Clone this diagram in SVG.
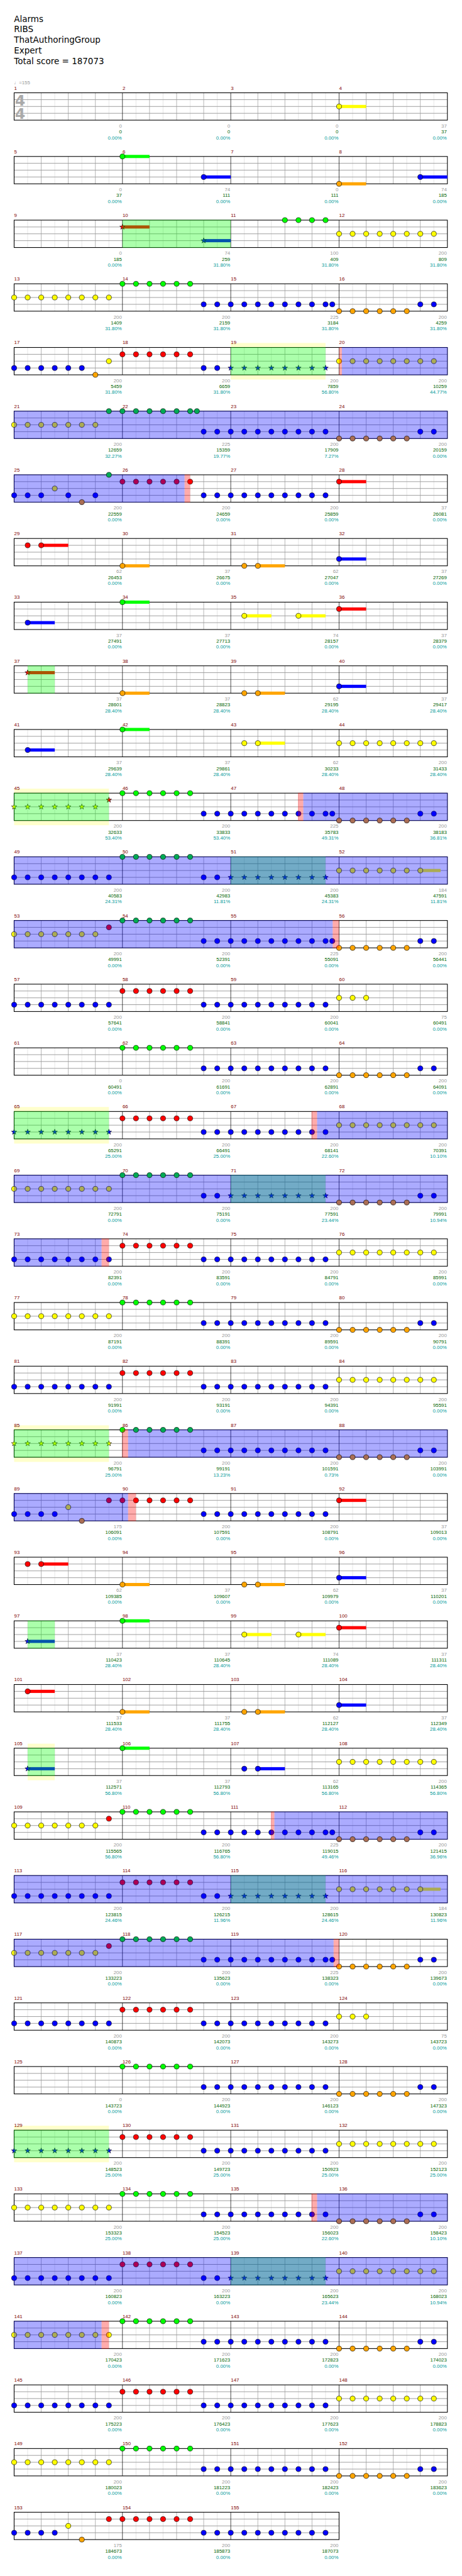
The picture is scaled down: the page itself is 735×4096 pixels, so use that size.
<svg xmlns="http://www.w3.org/2000/svg" width="735" height="4096" viewBox="0 0 735 4096">
<style>
.m{font:11px "Liberation Sans",Arial,sans-serif;fill:#800000}
.a,.s,.p{font:11px "Liberation Sans",Arial,sans-serif;text-anchor:end}
.a{fill:#999}.s{fill:#006400}.p{fill:#009999}
.h{font:18.8px "DejaVu Sans",sans-serif;fill:#000}
.ts{font:bold 33px "DejaVu Sans",sans-serif;fill:#aaa}
.t{font:11px "Liberation Sans","DejaVu Sans",sans-serif;fill:#999}
.G{fill:#0f0}.R{fill:#f00}.Y{fill:#ff0}.B{fill:#00f}.O{fill:#ffa500}.Gb{fill:#00aa55}.Ob{fill:#aa6e55}
.go{fill:#0f0;fill-opacity:.33}.bo{fill:#00f;fill-opacity:.33}.po{fill:#f00;fill-opacity:.33}.yb{fill:#ffc}
</style>
<defs>
<g id="c1" stroke="#000" stroke-width=".9"><circle r="5.6"/></g>
<g id="c2" stroke="#000" stroke-width=".9"><circle r="5.6"/><circle cx="30" r="5.6"/></g>
<g id="c3" stroke="#000" stroke-width=".9"><circle r="5.6"/><circle cx="30" r="5.6"/><circle cx="60" r="5.6"/></g>
<g id="c4" stroke="#000" stroke-width=".9"><circle r="5.6"/><circle cx="30" r="5.6"/><circle cx="60" r="5.6"/><circle cx="90" r="5.6"/></g>
<g id="c5" stroke="#000" stroke-width=".9"><circle r="5.6"/><circle cx="30" r="5.6"/><circle cx="60" r="5.6"/><circle cx="90" r="5.6"/><circle cx="120" r="5.6"/></g>
<g id="c6" stroke="#000" stroke-width=".9"><circle r="5.6"/><circle cx="30" r="5.6"/><circle cx="60" r="5.6"/><circle cx="90" r="5.6"/><circle cx="120" r="5.6"/><circle cx="150" r="5.6"/></g>
<g id="c7" stroke="#000" stroke-width=".9"><circle r="5.6"/><circle cx="30" r="5.6"/><circle cx="60" r="5.6"/><circle cx="90" r="5.6"/><circle cx="120" r="5.6"/><circle cx="150" r="5.6"/><circle cx="180" r="5.6"/></g>
<g id="c8" stroke="#000" stroke-width=".9"><circle r="5.6"/><circle cx="30" r="5.6"/><circle cx="60" r="5.6"/><circle cx="90" r="5.6"/><circle cx="120" r="5.6"/><circle cx="150" r="5.6"/><circle cx="180" r="5.6"/><circle cx="210" r="5.6"/></g>
<g id="c10" stroke="#000" stroke-width=".9"><circle r="5.6"/><circle cx="30" r="5.6"/><circle cx="60" r="5.6"/><circle cx="90" r="5.6"/><circle cx="120" r="5.6"/><circle cx="150" r="5.6"/><circle cx="180" r="5.6"/><circle cx="210" r="5.6"/><circle cx="240" r="5.6"/><circle cx="270" r="5.6"/></g>
<path id="sp" d="M0-6.3L1.5-2.05 6-1.95 2.4.78 3.7 5.1 0 2.5-3.7 5.1-2.4.78-6-1.95-1.5-2.05Z" stroke="#000" stroke-width=".8"/>
<g id="s7"><use href="#sp"/><use href="#sp" x="30"/><use href="#sp" x="60"/><use href="#sp" x="90"/><use href="#sp" x="120"/><use href="#sp" x="150"/><use href="#sp" x="180"/></g>
<g id="s8"><use href="#s7"/><use href="#sp" x="210"/></g>
<rect id="t2" y="-3.5" width="60" height="7"/>
<rect id="t15" y="-3.5" width="45" height="7"/>
<g id="S4">
<rect x="31.3" width="960" height="60.6" fill="#fff"/>
<path d="M61.3 0V60.6M121.3 0V60.6M181.3 0V60.6M241.3 0V60.6M301.3 0V60.6M361.3 0V60.6M421.3 0V60.6M481.3 0V60.6M541.3 0V60.6M601.3 0V60.6M661.3 0V60.6M721.3 0V60.6M781.3 0V60.6M841.3 0V60.6M901.3 0V60.6M961.3 0V60.6" stroke="#dcdcdc"/>
<path d="M91.3 0V60.6M151.3 0V60.6M211.3 0V60.6M331.3 0V60.6M391.3 0V60.6M451.3 0V60.6M571.3 0V60.6M631.3 0V60.6M691.3 0V60.6M811.3 0V60.6M871.3 0V60.6M931.3 0V60.6" stroke="#999"/>
<path d="M31.3 15.15H991.3M31.3 30.3H991.3M31.3 45.45H991.3" stroke="#999" stroke-width="1.3"/>
<path d="M271.3 0V60.6M511.3 0V60.6M751.3 0V60.6" stroke="#000"/>
<rect x="31.3" width="960" height="60.6" fill="none" stroke="#000" stroke-width="1.5"/>
</g>
<g id="S3">
<rect x="31.3" width="720" height="60.6" fill="#fff"/>
<path d="M61.3 0V60.6M121.3 0V60.6M181.3 0V60.6M241.3 0V60.6M301.3 0V60.6M361.3 0V60.6M421.3 0V60.6M481.3 0V60.6M541.3 0V60.6M601.3 0V60.6M661.3 0V60.6M721.3 0V60.6" stroke="#dcdcdc"/>
<path d="M91.3 0V60.6M151.3 0V60.6M211.3 0V60.6M331.3 0V60.6M391.3 0V60.6M451.3 0V60.6M571.3 0V60.6M631.3 0V60.6M691.3 0V60.6" stroke="#999"/>
<path d="M31.3 15.15H751.3M31.3 30.3H751.3M31.3 45.45H751.3" stroke="#999" stroke-width="1.3"/>
<path d="M271.3 0V60.6M511.3 0V60.6" stroke="#000"/>
<rect x="31.3" width="720" height="60.6" fill="none" stroke="#000" stroke-width="1.5"/>
</g>
</defs>
<rect width="735" height="4096" fill="#fff"/>
<g transform="scale(0.718)">
<g id="header">
<text class="h" x="31" y="48.3">Alarms</text>
<text class="h" x="31" y="71.7">RIBS</text>
<text class="h" x="31" y="95">ThatAuthoringGroup</text>
<text class="h" x="31" y="118.3">Expert</text>
<text class="h" x="31" y="141.7">Total score = 187073</text>
</g>

<g id="row1" transform="translate(0,205.5)">
<use href="#S4"/>
<text class="ts" x="33" y="28">4</text><text class="ts" x="33" y="58">4</text>
<use href="#t2" x="751.3" y="30.3" class="Y"/><use href="#c1" x="751.3" y="30.3" class="Y"/>
<text class="t" x="31" y="-19.5">♩=155</text>
<text class="m" y="-7"><tspan x="31.5">1</tspan><tspan x="271.5">2</tspan><tspan x="511.5">3</tspan><tspan x="751.5">4</tspan></text>
<text class="a" y="77"><tspan x="270">0</tspan><tspan x="510">0</tspan><tspan x="750">0</tspan><tspan x="990">37</tspan></text>
<text class="s" y="90"><tspan x="270">0</tspan><tspan x="510">0</tspan><tspan x="750">0</tspan><tspan x="990">37</tspan></text>
<text class="p" y="103"><tspan x="270">0.00%</tspan><tspan x="510">0.00%</tspan><tspan x="750">0.00%</tspan><tspan x="990">0.00%</tspan></text>
</g>

<g id="row5" transform="translate(0,346.5)">
<use href="#S4"/>
<use href="#t2" x="271.3" class="G"/><use href="#c1" x="271.3" class="G"/>
<use href="#t2" x="451.3" y="45.45" class="B"/><use href="#c1" x="451.3" y="45.45" class="B"/>
<use href="#t2" x="751.3" y="60.6" class="O"/><use href="#c1" x="751.3" y="60.6" class="O"/>
<use href="#t2" x="931.3" y="45.45" class="B"/><use href="#c1" x="931.3" y="45.45" class="B"/>
<text class="m" y="-7"><tspan x="31.5">5</tspan><tspan x="271.5">6</tspan><tspan x="511.5">7</tspan><tspan x="751.5">8</tspan></text>
<text class="a" y="77"><tspan x="270">0</tspan><tspan x="510">74</tspan><tspan x="750">0</tspan><tspan x="990">74</tspan></text>
<text class="s" y="90"><tspan x="270">37</tspan><tspan x="510">111</tspan><tspan x="750">111</tspan><tspan x="990">185</tspan></text>
<text class="p" y="103"><tspan x="270">0.00%</tspan><tspan x="510">0.00%</tspan><tspan x="750">0.00%</tspan><tspan x="990">0.00%</tspan></text>
</g>

<g id="row9" transform="translate(0,487.5)">
<use href="#S4"/>
<use href="#t2" x="271.3" y="15.15" class="R"/><use href="#sp" x="271.3" y="15.15" class="R"/>
<use href="#t2" x="451.3" y="45.45" class="B"/><use href="#sp" x="451.3" y="45.45" class="B"/>
<use href="#c4" x="631.3" class="G"/><use href="#c8" x="751.3" y="30.3" class="Y"/>
<rect class="go" x="271.3" y="-.75" width="240" height="62.1"/>
<text class="m" y="-7"><tspan x="31.5">9</tspan><tspan x="271.5">10</tspan><tspan x="511.5">11</tspan><tspan x="751.5">12</tspan></text>
<text class="a" y="77"><tspan x="270">0</tspan><tspan x="510">74</tspan><tspan x="750">100</tspan><tspan x="990">200</tspan></text>
<text class="s" y="90"><tspan x="270">185</tspan><tspan x="510">259</tspan><tspan x="750">409</tspan><tspan x="990">809</tspan></text>
<text class="p" y="103"><tspan x="270">0.00%</tspan><tspan x="510">31.80%</tspan><tspan x="750">31.80%</tspan><tspan x="990">31.80%</tspan></text>
</g>

<g id="row13" transform="translate(0,628.5)">
<use href="#S4"/>
<use href="#c8" x="31.3" y="30.3" class="Y"/><use href="#c6" x="271.3" class="G"/><use href="#c10" x="451.3" y="45.45" class="B"/><use href="#c1" x="736.3" y="45.45" class="B"/><use href="#c6" x="751.3" y="60.6" class="O"/><use href="#c2" x="931.3" y="45.45" class="B"/>
<text class="m" y="-7"><tspan x="31.5">13</tspan><tspan x="271.5">14</tspan><tspan x="511.5">15</tspan><tspan x="751.5">16</tspan></text>
<text class="a" y="77"><tspan x="270">200</tspan><tspan x="510">200</tspan><tspan x="750">225</tspan><tspan x="990">200</tspan></text>
<text class="s" y="90"><tspan x="270">1409</tspan><tspan x="510">2159</tspan><tspan x="750">3184</tspan><tspan x="990">4259</tspan></text>
<text class="p" y="103"><tspan x="270">31.80%</tspan><tspan x="510">31.80%</tspan><tspan x="750">31.80%</tspan><tspan x="990">31.80%</tspan></text>
</g>

<g id="row17" transform="translate(0,769.5)">
<rect class="yb" x="511.3" y="-10" width="210" height="81"/>
<use href="#S4"/>
<use href="#c6" x="31.3" y="45.45" class="B"/><use href="#c1" x="211.3" y="60.6" class="O"/><use href="#c1" x="241.3" y="30.3" class="Y"/><use href="#c6" x="271.3" y="15.15" class="R"/><use href="#c2" x="451.3" y="45.45" class="B"/><use href="#s8" x="511.3" y="45.45" class="B"/><use href="#c8" x="751.3" y="30.3" class="Y"/>
<rect class="go" x="511.3" y="-.75" width="210" height="62.1"/><rect class="po" x="751.3" y="-.75" width="6.2" height="62.1"/><rect class="bo" x="757.5" y="-.75" width="234.5" height="62.1"/>
<text class="m" y="-7"><tspan x="31.5">17</tspan><tspan x="271.5">18</tspan><tspan x="511.5">19</tspan><tspan x="751.5">20</tspan></text>
<text class="a" y="77"><tspan x="270">200</tspan><tspan x="510">200</tspan><tspan x="750">200</tspan><tspan x="990">200</tspan></text>
<text class="s" y="90"><tspan x="270">5459</tspan><tspan x="510">6659</tspan><tspan x="750">7859</tspan><tspan x="990">10259</tspan></text>
<text class="p" y="103"><tspan x="270">31.80%</tspan><tspan x="510">31.80%</tspan><tspan x="750">56.80%</tspan><tspan x="990">44.77%</tspan></text>
</g>

<g id="row21" transform="translate(0,910.5)">
<use href="#S4"/>
<use href="#c7" x="31.3" y="30.3" class="Y"/><use href="#c10" x="451.3" y="45.45" class="B"/><use href="#c2" x="931.3" y="45.45" class="B"/>
<rect class="bo" x="30.5" y="-.75" width="961.5" height="62.1"/>
<use href="#c7" x="241.3" class="Gb"/><use href="#c1" x="436.3" class="Gb"/><use href="#c6" x="751.3" y="60.6" class="Ob"/>
<text class="m" y="-7"><tspan x="31.5">21</tspan><tspan x="271.5">22</tspan><tspan x="511.5">23</tspan><tspan x="751.5">24</tspan></text>
<text class="a" y="77"><tspan x="270">200</tspan><tspan x="510">225</tspan><tspan x="750">200</tspan><tspan x="990">200</tspan></text>
<text class="s" y="90"><tspan x="270">12659</tspan><tspan x="510">15359</tspan><tspan x="750">17909</tspan><tspan x="990">20159</tspan></text>
<text class="p" y="103"><tspan x="270">32.27%</tspan><tspan x="510">19.77%</tspan><tspan x="750">7.27%</tspan><tspan x="990">0.00%</tspan></text>
</g>

<g id="row25" transform="translate(0,1051.5)">
<use href="#S4"/>
<use href="#c3" x="31.3" y="45.45" class="B"/><use href="#c1" x="121.3" y="30.3" class="Y"/><use href="#c1" x="151.3" y="45.45" class="B"/><use href="#c1" x="211.3" y="45.45" class="B"/><use href="#c6" x="271.3" y="15.15" class="R"/><use href="#c10" x="451.3" y="45.45" class="B"/><use href="#t2" x="751.3" y="15.15" class="R"/><use href="#c1" x="751.3" y="15.15" class="R"/>
<rect class="bo" x="30.5" y="-.75" width="378.5" height="62.1"/><rect class="po" x="409" y="-.75" width="12.3" height="62.1"/>
<use href="#c1" x="181.3" y="60.6" class="Ob"/><use href="#c1" x="241.3" class="Gb"/>
<text class="m" y="-7"><tspan x="31.5">25</tspan><tspan x="271.5">26</tspan><tspan x="511.5">27</tspan><tspan x="751.5">28</tspan></text>
<text class="a" y="77"><tspan x="270">200</tspan><tspan x="510">200</tspan><tspan x="750">200</tspan><tspan x="990">37</tspan></text>
<text class="s" y="90"><tspan x="270">22559</tspan><tspan x="510">24659</tspan><tspan x="750">25859</tspan><tspan x="990">26081</tspan></text>
<text class="p" y="103"><tspan x="270">0.00%</tspan><tspan x="510">0.00%</tspan><tspan x="750">0.00%</tspan><tspan x="990">0.00%</tspan></text>
</g>

<g id="row29" transform="translate(0,1192.5)">
<use href="#S4"/>
<use href="#c1" x="61.3" y="15.15" class="R"/><use href="#t2" x="91.3" y="15.15" class="R"/><use href="#c1" x="91.3" y="15.15" class="R"/><use href="#t2" x="271.3" y="60.6" class="O"/><use href="#c1" x="271.3" y="60.6" class="O"/><use href="#c1" x="541.3" y="60.6" class="O"/><use href="#t2" x="571.3" y="60.6" class="O"/><use href="#c1" x="571.3" y="60.6" class="O"/><use href="#t2" x="751.3" y="45.45" class="B"/><use href="#c1" x="751.3" y="45.45" class="B"/>
<text class="m" y="-7"><tspan x="31.5">29</tspan><tspan x="271.5">30</tspan><tspan x="511.5">31</tspan><tspan x="751.5">32</tspan></text>
<text class="a" y="77"><tspan x="270">62</tspan><tspan x="510">37</tspan><tspan x="750">62</tspan><tspan x="990">37</tspan></text>
<text class="s" y="90"><tspan x="270">26453</tspan><tspan x="510">26675</tspan><tspan x="750">27047</tspan><tspan x="990">27269</tspan></text>
<text class="p" y="103"><tspan x="270">0.00%</tspan><tspan x="510">0.00%</tspan><tspan x="750">0.00%</tspan><tspan x="990">0.00%</tspan></text>
</g>

<g id="row33" transform="translate(0,1333.5)">
<use href="#S4"/>
<use href="#t2" x="61.3" y="45.45" class="B"/><use href="#c1" x="61.3" y="45.45" class="B"/><use href="#t2" x="271.3" class="G"/><use href="#c1" x="271.3" class="G"/><use href="#t2" x="541.3" y="30.3" class="Y"/><use href="#c1" x="541.3" y="30.3" class="Y"/><use href="#t2" x="661.3" y="30.3" class="Y"/><use href="#c1" x="661.3" y="30.3" class="Y"/><use href="#t2" x="751.3" y="15.15" class="R"/><use href="#c1" x="751.3" y="15.15" class="R"/>
<text class="m" y="-7"><tspan x="31.5">33</tspan><tspan x="271.5">34</tspan><tspan x="511.5">35</tspan><tspan x="751.5">36</tspan></text>
<text class="a" y="77"><tspan x="270">37</tspan><tspan x="510">37</tspan><tspan x="750">74</tspan><tspan x="990">37</tspan></text>
<text class="s" y="90"><tspan x="270">27491</tspan><tspan x="510">27713</tspan><tspan x="750">28157</tspan><tspan x="990">28379</tspan></text>
<text class="p" y="103"><tspan x="270">0.00%</tspan><tspan x="510">0.00%</tspan><tspan x="750">0.00%</tspan><tspan x="990">0.00%</tspan></text>
</g>

<g id="row37" transform="translate(0,1474.5)">
<use href="#S4"/>
<use href="#t2" x="61.3" y="15.15" class="R"/><use href="#sp" x="61.3" y="15.15" class="R"/><use href="#t2" x="271.3" y="60.6" class="O"/><use href="#c1" x="271.3" y="60.6" class="O"/><use href="#c1" x="541.3" y="60.6" class="O"/><use href="#t2" x="571.3" y="60.6" class="O"/><use href="#c1" x="571.3" y="60.6" class="O"/><use href="#t2" x="751.3" y="45.45" class="B"/><use href="#c1" x="751.3" y="45.45" class="B"/>
<rect class="go" x="61.3" y="-.75" width="60" height="62.1"/>
<text class="m" y="-7"><tspan x="31.5">37</tspan><tspan x="271.5">38</tspan><tspan x="511.5">39</tspan><tspan x="751.5">40</tspan></text>
<text class="a" y="77"><tspan x="270">37</tspan><tspan x="510">37</tspan><tspan x="750">62</tspan><tspan x="990">37</tspan></text>
<text class="s" y="90"><tspan x="270">28601</tspan><tspan x="510">28823</tspan><tspan x="750">29195</tspan><tspan x="990">29417</tspan></text>
<text class="p" y="103"><tspan x="270">28.40%</tspan><tspan x="510">28.40%</tspan><tspan x="750">28.40%</tspan><tspan x="990">28.40%</tspan></text>
</g>

<g id="row41" transform="translate(0,1615.5)">
<use href="#S4"/>
<use href="#t2" x="61.3" y="45.45" class="B"/><use href="#c1" x="61.3" y="45.45" class="B"/><use href="#t2" x="271.3" class="G"/><use href="#c1" x="271.3" class="G"/><use href="#c1" x="541.3" y="30.3" class="Y"/><use href="#t2" x="571.3" y="30.3" class="Y"/><use href="#c1" x="571.3" y="30.3" class="Y"/><use href="#c8" x="751.3" y="30.3" class="Y"/>
<text class="m" y="-7"><tspan x="31.5">41</tspan><tspan x="271.5">42</tspan><tspan x="511.5">43</tspan><tspan x="751.5">44</tspan></text>
<text class="a" y="77"><tspan x="270">37</tspan><tspan x="510">37</tspan><tspan x="750">62</tspan><tspan x="990">200</tspan></text>
<text class="s" y="90"><tspan x="270">29639</tspan><tspan x="510">29861</tspan><tspan x="750">30233</tspan><tspan x="990">31433</tspan></text>
<text class="p" y="103"><tspan x="270">28.40%</tspan><tspan x="510">28.40%</tspan><tspan x="750">28.40%</tspan><tspan x="990">28.40%</tspan></text>
</g>

<g id="row45" transform="translate(0,1756.5)">
<rect class="yb" x="31.3" y="-10" width="210" height="81"/>
<use href="#S4"/>
<use href="#s7" x="31.3" y="30.3" class="Y"/><use href="#sp" x="241.3" y="15.15" class="R"/><use href="#c6" x="271.3" class="G"/><use href="#c10" x="451.3" y="45.45" class="B"/><use href="#c1" x="736.3" y="45.45" class="B"/><use href="#c2" x="931.3" y="45.45" class="B"/>
<rect class="go" x="30.5" y="-.75" width="210.8" height="62.1"/><rect class="po" x="660.2" y="-.75" width="11.8" height="62.1"/><rect class="bo" x="672" y="-.75" width="320" height="62.1"/>
<use href="#c6" x="751.3" y="60.6" class="Ob"/>
<text class="m" y="-7"><tspan x="31.5">45</tspan><tspan x="271.5">46</tspan><tspan x="511.5">47</tspan><tspan x="751.5">48</tspan></text>
<text class="a" y="77"><tspan x="270">200</tspan><tspan x="510">200</tspan><tspan x="750">225</tspan><tspan x="990">200</tspan></text>
<text class="s" y="90"><tspan x="270">32633</tspan><tspan x="510">33833</tspan><tspan x="750">35783</tspan><tspan x="990">38183</tspan></text>
<text class="p" y="103"><tspan x="270">53.40%</tspan><tspan x="510">53.40%</tspan><tspan x="750">49.31%</tspan><tspan x="990">36.81%</tspan></text>
</g>

<g id="row49" transform="translate(0,1897.5)">
<use href="#S4"/>
<use href="#c8" x="31.3" y="45.45" class="B"/><use href="#c2" x="451.3" y="45.45" class="B"/><use href="#s8" x="511.3" y="45.45" class="B"/><use href="#t15" x="931.3" y="30.3" class="Y"/><use href="#c7" x="751.3" y="30.3" class="Y"/>
<rect class="go" x="511.3" y="-.75" width="210" height="62.1"/><rect class="bo" x="30.5" y="-.75" width="961.5" height="62.1"/>
<use href="#c6" x="271.3" class="Gb"/>
<text class="m" y="-7"><tspan x="31.5">49</tspan><tspan x="271.5">50</tspan><tspan x="511.5">51</tspan><tspan x="751.5">52</tspan></text>
<text class="a" y="77"><tspan x="270">200</tspan><tspan x="510">200</tspan><tspan x="750">200</tspan><tspan x="990">184</tspan></text>
<text class="s" y="90"><tspan x="270">40583</tspan><tspan x="510">42983</tspan><tspan x="750">45383</tspan><tspan x="990">47591</tspan></text>
<text class="p" y="103"><tspan x="270">24.31%</tspan><tspan x="510">11.81%</tspan><tspan x="750">24.31%</tspan><tspan x="990">11.81%</tspan></text>
</g>

<g id="row53" transform="translate(0,2038.5)">
<use href="#S4"/>
<use href="#c7" x="31.3" y="30.3" class="Y"/><use href="#c1" x="241.3" y="15.15" class="R"/><use href="#c10" x="451.3" y="45.45" class="B"/><use href="#c1" x="736.3" y="45.45" class="B"/><use href="#c6" x="751.3" y="60.6" class="O"/><use href="#c2" x="931.3" y="45.45" class="B"/>
<rect class="bo" x="30.5" y="-.75" width="706.7" height="62.1"/><rect class="po" x="737.2" y="-.75" width="14.1" height="62.1"/>
<use href="#c6" x="271.3" class="Gb"/>
<text class="m" y="-7"><tspan x="31.5">53</tspan><tspan x="271.5">54</tspan><tspan x="511.5">55</tspan><tspan x="751.5">56</tspan></text>
<text class="a" y="77"><tspan x="270">200</tspan><tspan x="510">200</tspan><tspan x="750">225</tspan><tspan x="990">200</tspan></text>
<text class="s" y="90"><tspan x="270">49991</tspan><tspan x="510">52391</tspan><tspan x="750">55091</tspan><tspan x="990">56441</tspan></text>
<text class="p" y="103"><tspan x="270">0.00%</tspan><tspan x="510">0.00%</tspan><tspan x="750">0.00%</tspan><tspan x="990">0.00%</tspan></text>
</g>

<g id="row57" transform="translate(0,2179.5)">
<use href="#S4"/>
<use href="#c8" x="31.3" y="45.45" class="B"/><use href="#c6" x="271.3" y="15.15" class="R"/><use href="#c10" x="451.3" y="45.45" class="B"/><use href="#c3" x="751.3" y="30.3" class="Y"/>
<text class="m" y="-7"><tspan x="31.5">57</tspan><tspan x="271.5">58</tspan><tspan x="511.5">59</tspan><tspan x="751.5">60</tspan></text>
<text class="a" y="77"><tspan x="270">200</tspan><tspan x="510">200</tspan><tspan x="750">200</tspan><tspan x="990">75</tspan></text>
<text class="s" y="90"><tspan x="270">57641</tspan><tspan x="510">58841</tspan><tspan x="750">60041</tspan><tspan x="990">60491</tspan></text>
<text class="p" y="103"><tspan x="270">0.00%</tspan><tspan x="510">0.00%</tspan><tspan x="750">0.00%</tspan><tspan x="990">0.00%</tspan></text>
</g>

<g id="row61" transform="translate(0,2320.5)">
<use href="#S4"/>
<use href="#c6" x="271.3" class="G"/><use href="#c10" x="451.3" y="45.45" class="B"/><use href="#c6" x="751.3" y="60.6" class="O"/><use href="#c2" x="931.3" y="45.45" class="B"/>
<text class="m" y="-7"><tspan x="31.5">61</tspan><tspan x="271.5">62</tspan><tspan x="511.5">63</tspan><tspan x="751.5">64</tspan></text>
<text class="a" y="77"><tspan x="270">0</tspan><tspan x="510">200</tspan><tspan x="750">200</tspan><tspan x="990">200</tspan></text>
<text class="s" y="90"><tspan x="270">60491</tspan><tspan x="510">61691</tspan><tspan x="750">62891</tspan><tspan x="990">64091</tspan></text>
<text class="p" y="103"><tspan x="270">0.00%</tspan><tspan x="510">0.00%</tspan><tspan x="750">0.00%</tspan><tspan x="990">0.00%</tspan></text>
</g>

<g id="row65" transform="translate(0,2461.5)">
<rect class="yb" x="31.3" y="-10" width="210" height="81"/>
<use href="#S4"/>
<use href="#s8" x="31.3" y="45.45" class="B"/><use href="#c6" x="271.3" y="15.15" class="R"/><use href="#c10" x="451.3" y="45.45" class="B"/><use href="#c8" x="751.3" y="30.3" class="Y"/>
<rect class="go" x="30.5" y="-.75" width="210.8" height="62.1"/><rect class="po" x="690.2" y="-.75" width="12.4" height="62.1"/><rect class="bo" x="702.6" y="-.75" width="289.4" height="62.1"/>
<text class="m" y="-7"><tspan x="31.5">65</tspan><tspan x="271.5">66</tspan><tspan x="511.5">67</tspan><tspan x="751.5">68</tspan></text>
<text class="a" y="77"><tspan x="270">200</tspan><tspan x="510">200</tspan><tspan x="750">200</tspan><tspan x="990">200</tspan></text>
<text class="s" y="90"><tspan x="270">65291</tspan><tspan x="510">66491</tspan><tspan x="750">68141</tspan><tspan x="990">70391</tspan></text>
<text class="p" y="103"><tspan x="270">25.00%</tspan><tspan x="510">25.00%</tspan><tspan x="750">22.60%</tspan><tspan x="990">10.10%</tspan></text>
</g>

<g id="row69" transform="translate(0,2602.5)">
<use href="#S4"/>
<use href="#c8" x="31.3" y="30.3" class="Y"/><use href="#c2" x="451.3" y="45.45" class="B"/><use href="#s8" x="511.3" y="45.45" class="B"/><use href="#c2" x="931.3" y="45.45" class="B"/>
<rect class="go" x="511.3" y="-.75" width="210" height="62.1"/><rect class="bo" x="30.5" y="-.75" width="961.5" height="62.1"/>
<use href="#c6" x="271.3" class="Gb"/><use href="#c6" x="751.3" y="60.6" class="Ob"/>
<text class="m" y="-7"><tspan x="31.5">69</tspan><tspan x="271.5">70</tspan><tspan x="511.5">71</tspan><tspan x="751.5">72</tspan></text>
<text class="a" y="77"><tspan x="270">200</tspan><tspan x="510">200</tspan><tspan x="750">200</tspan><tspan x="990">200</tspan></text>
<text class="s" y="90"><tspan x="270">72791</tspan><tspan x="510">75191</tspan><tspan x="750">77591</tspan><tspan x="990">79991</tspan></text>
<text class="p" y="103"><tspan x="270">0.00%</tspan><tspan x="510">0.00%</tspan><tspan x="750">23.44%</tspan><tspan x="990">10.94%</tspan></text>
</g>

<g id="row73" transform="translate(0,2743.5)">
<use href="#S4"/>
<use href="#c8" x="31.3" y="45.45" class="B"/><use href="#c6" x="271.3" y="15.15" class="R"/><use href="#c10" x="451.3" y="45.45" class="B"/><use href="#c8" x="751.3" y="30.3" class="Y"/>
<rect class="bo" x="30.5" y="-.75" width="194.6" height="62.1"/><rect class="po" x="225.1" y="-.75" width="16.2" height="62.1"/>
<text class="m" y="-7"><tspan x="31.5">73</tspan><tspan x="271.5">74</tspan><tspan x="511.5">75</tspan><tspan x="751.5">76</tspan></text>
<text class="a" y="77"><tspan x="270">200</tspan><tspan x="510">200</tspan><tspan x="750">200</tspan><tspan x="990">200</tspan></text>
<text class="s" y="90"><tspan x="270">82391</tspan><tspan x="510">83591</tspan><tspan x="750">84791</tspan><tspan x="990">85991</tspan></text>
<text class="p" y="103"><tspan x="270">0.00%</tspan><tspan x="510">0.00%</tspan><tspan x="750">0.00%</tspan><tspan x="990">0.00%</tspan></text>
</g>

<g id="row77" transform="translate(0,2884.5)">
<use href="#S4"/>
<use href="#c8" x="31.3" y="30.3" class="Y"/><use href="#c6" x="271.3" class="G"/><use href="#c10" x="451.3" y="45.45" class="B"/><use href="#c6" x="751.3" y="60.6" class="O"/><use href="#c2" x="931.3" y="45.45" class="B"/>
<text class="m" y="-7"><tspan x="31.5">77</tspan><tspan x="271.5">78</tspan><tspan x="511.5">79</tspan><tspan x="751.5">80</tspan></text>
<text class="a" y="77"><tspan x="270">200</tspan><tspan x="510">200</tspan><tspan x="750">200</tspan><tspan x="990">200</tspan></text>
<text class="s" y="90"><tspan x="270">87191</tspan><tspan x="510">88391</tspan><tspan x="750">89591</tspan><tspan x="990">90791</tspan></text>
<text class="p" y="103"><tspan x="270">0.00%</tspan><tspan x="510">0.00%</tspan><tspan x="750">0.00%</tspan><tspan x="990">0.00%</tspan></text>
</g>

<g id="row81" transform="translate(0,3025.5)">
<use href="#S4"/>
<use href="#c8" x="31.3" y="45.45" class="B"/><use href="#c6" x="271.3" y="15.15" class="R"/><use href="#c10" x="451.3" y="45.45" class="B"/><use href="#c8" x="751.3" y="30.3" class="Y"/>
<text class="m" y="-7"><tspan x="31.5">81</tspan><tspan x="271.5">82</tspan><tspan x="511.5">83</tspan><tspan x="751.5">84</tspan></text>
<text class="a" y="77"><tspan x="270">200</tspan><tspan x="510">200</tspan><tspan x="750">200</tspan><tspan x="990">200</tspan></text>
<text class="s" y="90"><tspan x="270">91991</tspan><tspan x="510">93191</tspan><tspan x="750">94391</tspan><tspan x="990">95591</tspan></text>
<text class="p" y="103"><tspan x="270">0.00%</tspan><tspan x="510">0.00%</tspan><tspan x="750">0.00%</tspan><tspan x="990">0.00%</tspan></text>
</g>

<g id="row85" transform="translate(0,3166.5)">
<rect class="yb" x="31.3" y="-10" width="210" height="81"/>
<use href="#S4"/>
<use href="#s8" x="31.3" y="30.3" class="Y"/><use href="#c1" x="271.3" class="G"/><use href="#c10" x="451.3" y="45.45" class="B"/><use href="#c2" x="931.3" y="45.45" class="B"/>
<rect class="go" x="30.5" y="-.75" width="210.8" height="62.1"/><rect class="po" x="270.7" y="-.75" width="13.1" height="62.1"/><rect class="bo" x="283.8" y="-.75" width="708.2" height="62.1"/>
<use href="#c5" x="301.3" class="Gb"/><use href="#c6" x="751.3" y="60.6" class="Ob"/>
<text class="m" y="-7"><tspan x="31.5">85</tspan><tspan x="271.5">86</tspan><tspan x="511.5">87</tspan><tspan x="751.5">88</tspan></text>
<text class="a" y="77"><tspan x="270">200</tspan><tspan x="510">200</tspan><tspan x="750">200</tspan><tspan x="990">200</tspan></text>
<text class="s" y="90"><tspan x="270">96791</tspan><tspan x="510">99191</tspan><tspan x="750">101591</tspan><tspan x="990">103991</tspan></text>
<text class="p" y="103"><tspan x="270">25.00%</tspan><tspan x="510">13.23%</tspan><tspan x="750">0.73%</tspan><tspan x="990">0.00%</tspan></text>
</g>

<g id="row89" transform="translate(0,3307.5)">
<use href="#S4"/>
<use href="#c4" x="31.3" y="45.45" class="B"/><use href="#c1" x="151.3" y="30.3" class="Y"/><use href="#c7" x="241.3" y="15.15" class="R"/><use href="#c10" x="451.3" y="45.45" class="B"/><use href="#t2" x="751.3" y="15.15" class="R"/><use href="#c1" x="751.3" y="15.15" class="R"/>
<rect class="bo" x="30.5" y="-.75" width="253.3" height="62.1"/><rect class="po" x="283.8" y="-.75" width="17.5" height="62.1"/>
<use href="#c1" x="181.3" y="60.6" class="Ob"/>
<text class="m" y="-7"><tspan x="31.5">89</tspan><tspan x="271.5">90</tspan><tspan x="511.5">91</tspan><tspan x="751.5">92</tspan></text>
<text class="a" y="77"><tspan x="270">175</tspan><tspan x="510">200</tspan><tspan x="750">200</tspan><tspan x="990">37</tspan></text>
<text class="s" y="90"><tspan x="270">106091</tspan><tspan x="510">107591</tspan><tspan x="750">108791</tspan><tspan x="990">109013</tspan></text>
<text class="p" y="103"><tspan x="270">0.00%</tspan><tspan x="510">0.00%</tspan><tspan x="750">0.00%</tspan><tspan x="990">0.00%</tspan></text>
</g>

<g id="row93" transform="translate(0,3448.5)">
<use href="#S4"/>
<use href="#c1" x="61.3" y="15.15" class="R"/><use href="#t2" x="91.3" y="15.15" class="R"/><use href="#c1" x="91.3" y="15.15" class="R"/><use href="#t2" x="271.3" y="60.6" class="O"/><use href="#c1" x="271.3" y="60.6" class="O"/><use href="#c1" x="541.3" y="60.6" class="O"/><use href="#t2" x="571.3" y="60.6" class="O"/><use href="#c1" x="571.3" y="60.6" class="O"/><use href="#t2" x="751.3" y="45.45" class="B"/><use href="#c1" x="751.3" y="45.45" class="B"/>
<text class="m" y="-7"><tspan x="31.5">93</tspan><tspan x="271.5">94</tspan><tspan x="511.5">95</tspan><tspan x="751.5">96</tspan></text>
<text class="a" y="77"><tspan x="270">62</tspan><tspan x="510">37</tspan><tspan x="750">62</tspan><tspan x="990">37</tspan></text>
<text class="s" y="90"><tspan x="270">109385</tspan><tspan x="510">109607</tspan><tspan x="750">109979</tspan><tspan x="990">110201</tspan></text>
<text class="p" y="103"><tspan x="270">0.00%</tspan><tspan x="510">0.00%</tspan><tspan x="750">0.00%</tspan><tspan x="990">0.00%</tspan></text>
</g>

<g id="row97" transform="translate(0,3589.5)">
<use href="#S4"/>
<use href="#t2" x="61.3" y="45.45" class="B"/><use href="#sp" x="61.3" y="45.45" class="B"/><use href="#t2" x="271.3" class="G"/><use href="#c1" x="271.3" class="G"/><use href="#t2" x="541.3" y="30.3" class="Y"/><use href="#c1" x="541.3" y="30.3" class="Y"/><use href="#t2" x="661.3" y="30.3" class="Y"/><use href="#c1" x="661.3" y="30.3" class="Y"/><use href="#t2" x="751.3" y="15.15" class="R"/><use href="#c1" x="751.3" y="15.15" class="R"/>
<rect class="go" x="61.3" y="-.75" width="60" height="62.1"/>
<text class="m" y="-7"><tspan x="31.5">97</tspan><tspan x="271.5">98</tspan><tspan x="511.5">99</tspan><tspan x="751.5">100</tspan></text>
<text class="a" y="77"><tspan x="270">37</tspan><tspan x="510">37</tspan><tspan x="750">74</tspan><tspan x="990">37</tspan></text>
<text class="s" y="90"><tspan x="270">110423</tspan><tspan x="510">110645</tspan><tspan x="750">111089</tspan><tspan x="990">111311</tspan></text>
<text class="p" y="103"><tspan x="270">28.40%</tspan><tspan x="510">28.40%</tspan><tspan x="750">28.40%</tspan><tspan x="990">28.40%</tspan></text>
</g>

<g id="row101" transform="translate(0,3730.5)">
<use href="#S4"/>
<use href="#t2" x="61.3" y="15.15" class="R"/><use href="#c1" x="61.3" y="15.15" class="R"/><use href="#t2" x="271.3" y="60.6" class="O"/><use href="#c1" x="271.3" y="60.6" class="O"/><use href="#c1" x="541.3" y="60.6" class="O"/><use href="#t2" x="571.3" y="60.6" class="O"/><use href="#c1" x="571.3" y="60.6" class="O"/><use href="#t2" x="751.3" y="45.45" class="B"/><use href="#c1" x="751.3" y="45.45" class="B"/>
<text class="m" y="-7"><tspan x="31.5">101</tspan><tspan x="271.5">102</tspan><tspan x="511.5">103</tspan><tspan x="751.5">104</tspan></text>
<text class="a" y="77"><tspan x="270">37</tspan><tspan x="510">37</tspan><tspan x="750">62</tspan><tspan x="990">37</tspan></text>
<text class="s" y="90"><tspan x="270">111533</tspan><tspan x="510">111755</tspan><tspan x="750">112127</tspan><tspan x="990">112349</tspan></text>
<text class="p" y="103"><tspan x="270">28.40%</tspan><tspan x="510">28.40%</tspan><tspan x="750">28.40%</tspan><tspan x="990">28.40%</tspan></text>
</g>

<g id="row105" transform="translate(0,3871.5)">
<rect class="yb" x="61.3" y="-10" width="60" height="81"/>
<use href="#S4"/>
<use href="#t2" x="61.3" y="45.45" class="B"/><use href="#sp" x="61.3" y="45.45" class="B"/><use href="#t2" x="271.3" class="G"/><use href="#c1" x="271.3" class="G"/><use href="#c1" x="541.3" y="45.45" class="B"/><use href="#t2" x="571.3" y="45.45" class="B"/><use href="#c1" x="571.3" y="45.45" class="B"/><use href="#c8" x="751.3" y="30.3" class="Y"/>
<rect class="go" x="61.3" y="-.75" width="60" height="62.1"/>
<text class="m" y="-7"><tspan x="31.5">105</tspan><tspan x="271.5">106</tspan><tspan x="511.5">107</tspan><tspan x="751.5">108</tspan></text>
<text class="a" y="77"><tspan x="270">37</tspan><tspan x="510">37</tspan><tspan x="750">62</tspan><tspan x="990">200</tspan></text>
<text class="s" y="90"><tspan x="270">112571</tspan><tspan x="510">112793</tspan><tspan x="750">113165</tspan><tspan x="990">114365</tspan></text>
<text class="p" y="103"><tspan x="270">56.80%</tspan><tspan x="510">56.80%</tspan><tspan x="750">56.80%</tspan><tspan x="990">56.80%</tspan></text>
</g>

<g id="row109" transform="translate(0,4012.5)">
<use href="#S4"/>
<use href="#c7" x="31.3" y="30.3" class="Y"/><use href="#c1" x="241.3" y="15.15" class="R"/><use href="#c6" x="271.3" class="G"/><use href="#c10" x="451.3" y="45.45" class="B"/><use href="#c1" x="736.3" y="45.45" class="B"/><use href="#c2" x="931.3" y="45.45" class="B"/>
<rect class="po" x="600.2" y="-.75" width="7.8" height="62.1"/><rect class="bo" x="608" y="-.75" width="384" height="62.1"/>
<use href="#c6" x="751.3" y="60.6" class="Ob"/>
<text class="m" y="-7"><tspan x="31.5">109</tspan><tspan x="271.5">110</tspan><tspan x="511.5">111</tspan><tspan x="751.5">112</tspan></text>
<text class="a" y="77"><tspan x="270">200</tspan><tspan x="510">200</tspan><tspan x="750">225</tspan><tspan x="990">200</tspan></text>
<text class="s" y="90"><tspan x="270">115565</tspan><tspan x="510">116765</tspan><tspan x="750">119015</tspan><tspan x="990">121415</tspan></text>
<text class="p" y="103"><tspan x="270">56.80%</tspan><tspan x="510">56.80%</tspan><tspan x="750">49.46%</tspan><tspan x="990">36.96%</tspan></text>
</g>

<g id="row113" transform="translate(0,4153.5)">
<use href="#S4"/>
<use href="#c8" x="31.3" y="45.45" class="B"/><use href="#c6" x="271.3" y="15.15" class="R"/><use href="#c2" x="451.3" y="45.45" class="B"/><use href="#s8" x="511.3" y="45.45" class="B"/><use href="#t15" x="931.3" y="30.3" class="Y"/><use href="#c7" x="751.3" y="30.3" class="Y"/>
<rect class="go" x="511.3" y="-.75" width="210" height="62.1"/><rect class="bo" x="30.5" y="-.75" width="961.5" height="62.1"/>
<text class="m" y="-7"><tspan x="31.5">113</tspan><tspan x="271.5">114</tspan><tspan x="511.5">115</tspan><tspan x="751.5">116</tspan></text>
<text class="a" y="77"><tspan x="270">200</tspan><tspan x="510">200</tspan><tspan x="750">200</tspan><tspan x="990">184</tspan></text>
<text class="s" y="90"><tspan x="270">123815</tspan><tspan x="510">126215</tspan><tspan x="750">128615</tspan><tspan x="990">130823</tspan></text>
<text class="p" y="103"><tspan x="270">24.46%</tspan><tspan x="510">11.96%</tspan><tspan x="750">24.46%</tspan><tspan x="990">11.96%</tspan></text>
</g>

<g id="row117" transform="translate(0,4294.5)">
<use href="#S4"/>
<use href="#c7" x="31.3" y="30.3" class="Y"/><use href="#c1" x="241.3" y="15.15" class="R"/><use href="#c10" x="451.3" y="45.45" class="B"/><use href="#c1" x="736.3" y="45.45" class="B"/><use href="#c6" x="751.3" y="60.6" class="O"/><use href="#c2" x="931.3" y="45.45" class="B"/>
<rect class="bo" x="30.5" y="-.75" width="708.7" height="62.1"/><rect class="po" x="739.2" y="-.75" width="12.1" height="62.1"/>
<use href="#c6" x="271.3" class="Gb"/>
<text class="m" y="-7"><tspan x="31.5">117</tspan><tspan x="271.5">118</tspan><tspan x="511.5">119</tspan><tspan x="751.5">120</tspan></text>
<text class="a" y="77"><tspan x="270">200</tspan><tspan x="510">200</tspan><tspan x="750">225</tspan><tspan x="990">200</tspan></text>
<text class="s" y="90"><tspan x="270">133223</tspan><tspan x="510">135623</tspan><tspan x="750">138323</tspan><tspan x="990">139673</tspan></text>
<text class="p" y="103"><tspan x="270">0.00%</tspan><tspan x="510">0.00%</tspan><tspan x="750">0.00%</tspan><tspan x="990">0.00%</tspan></text>
</g>

<g id="row121" transform="translate(0,4435.5)">
<use href="#S4"/>
<use href="#c8" x="31.3" y="45.45" class="B"/><use href="#c6" x="271.3" y="15.15" class="R"/><use href="#c10" x="451.3" y="45.45" class="B"/><use href="#c3" x="751.3" y="30.3" class="Y"/>
<text class="m" y="-7"><tspan x="31.5">121</tspan><tspan x="271.5">122</tspan><tspan x="511.5">123</tspan><tspan x="751.5">124</tspan></text>
<text class="a" y="77"><tspan x="270">200</tspan><tspan x="510">200</tspan><tspan x="750">200</tspan><tspan x="990">75</tspan></text>
<text class="s" y="90"><tspan x="270">140873</tspan><tspan x="510">142073</tspan><tspan x="750">143273</tspan><tspan x="990">143723</tspan></text>
<text class="p" y="103"><tspan x="270">0.00%</tspan><tspan x="510">0.00%</tspan><tspan x="750">0.00%</tspan><tspan x="990">0.00%</tspan></text>
</g>

<g id="row125" transform="translate(0,4576.5)">
<use href="#S4"/>
<use href="#c6" x="271.3" class="G"/><use href="#c10" x="451.3" y="45.45" class="B"/><use href="#c6" x="751.3" y="60.6" class="O"/><use href="#c2" x="931.3" y="45.45" class="B"/>
<text class="m" y="-7"><tspan x="31.5">125</tspan><tspan x="271.5">126</tspan><tspan x="511.5">127</tspan><tspan x="751.5">128</tspan></text>
<text class="a" y="77"><tspan x="270">0</tspan><tspan x="510">200</tspan><tspan x="750">200</tspan><tspan x="990">200</tspan></text>
<text class="s" y="90"><tspan x="270">143723</tspan><tspan x="510">144923</tspan><tspan x="750">146123</tspan><tspan x="990">147323</tspan></text>
<text class="p" y="103"><tspan x="270">0.00%</tspan><tspan x="510">0.00%</tspan><tspan x="750">0.00%</tspan><tspan x="990">0.00%</tspan></text>
</g>

<g id="row129" transform="translate(0,4717.5)">
<rect class="yb" x="31.3" y="-10" width="210" height="81"/>
<use href="#S4"/>
<use href="#s8" x="31.3" y="45.45" class="B"/><use href="#c6" x="271.3" y="15.15" class="R"/><use href="#c10" x="451.3" y="45.45" class="B"/><use href="#c8" x="751.3" y="30.3" class="Y"/>
<rect class="go" x="30.5" y="-.75" width="210.8" height="62.1"/>
<text class="m" y="-7"><tspan x="31.5">129</tspan><tspan x="271.5">130</tspan><tspan x="511.5">131</tspan><tspan x="751.5">132</tspan></text>
<text class="a" y="77"><tspan x="270">200</tspan><tspan x="510">200</tspan><tspan x="750">200</tspan><tspan x="990">200</tspan></text>
<text class="s" y="90"><tspan x="270">148523</tspan><tspan x="510">149723</tspan><tspan x="750">150923</tspan><tspan x="990">152123</tspan></text>
<text class="p" y="103"><tspan x="270">25.00%</tspan><tspan x="510">25.00%</tspan><tspan x="750">25.00%</tspan><tspan x="990">25.00%</tspan></text>
</g>

<g id="row133" transform="translate(0,4858.5)">
<use href="#S4"/>
<use href="#c8" x="31.3" y="30.3" class="Y"/><use href="#c6" x="271.3" class="G"/><use href="#c10" x="451.3" y="45.45" class="B"/><use href="#c2" x="931.3" y="45.45" class="B"/>
<rect class="po" x="690.2" y="-.75" width="12.4" height="62.1"/><rect class="bo" x="702.6" y="-.75" width="289.4" height="62.1"/>
<use href="#c6" x="751.3" y="60.6" class="Ob"/>
<text class="m" y="-7"><tspan x="31.5">133</tspan><tspan x="271.5">134</tspan><tspan x="511.5">135</tspan><tspan x="751.5">136</tspan></text>
<text class="a" y="77"><tspan x="270">200</tspan><tspan x="510">200</tspan><tspan x="750">200</tspan><tspan x="990">200</tspan></text>
<text class="s" y="90"><tspan x="270">153323</tspan><tspan x="510">154523</tspan><tspan x="750">156023</tspan><tspan x="990">158423</tspan></text>
<text class="p" y="103"><tspan x="270">25.00%</tspan><tspan x="510">25.00%</tspan><tspan x="750">22.60%</tspan><tspan x="990">10.10%</tspan></text>
</g>

<g id="row137" transform="translate(0,4999.5)">
<use href="#S4"/>
<use href="#c8" x="31.3" y="45.45" class="B"/><use href="#c6" x="271.3" y="15.15" class="R"/><use href="#c2" x="451.3" y="45.45" class="B"/><use href="#s8" x="511.3" y="45.45" class="B"/><use href="#c8" x="751.3" y="30.3" class="Y"/>
<rect class="go" x="511.3" y="-.75" width="210" height="62.1"/><rect class="bo" x="30.5" y="-.75" width="961.5" height="62.1"/>
<text class="m" y="-7"><tspan x="31.5">137</tspan><tspan x="271.5">138</tspan><tspan x="511.5">139</tspan><tspan x="751.5">140</tspan></text>
<text class="a" y="77"><tspan x="270">200</tspan><tspan x="510">200</tspan><tspan x="750">200</tspan><tspan x="990">200</tspan></text>
<text class="s" y="90"><tspan x="270">160823</tspan><tspan x="510">163223</tspan><tspan x="750">165623</tspan><tspan x="990">168023</tspan></text>
<text class="p" y="103"><tspan x="270">0.00%</tspan><tspan x="510">0.00%</tspan><tspan x="750">23.44%</tspan><tspan x="990">10.94%</tspan></text>
</g>

<g id="row141" transform="translate(0,5140.5)">
<use href="#S4"/>
<use href="#c8" x="31.3" y="30.3" class="Y"/><use href="#c6" x="271.3" class="G"/><use href="#c10" x="451.3" y="45.45" class="B"/><use href="#c6" x="751.3" y="60.6" class="O"/><use href="#c2" x="931.3" y="45.45" class="B"/>
<rect class="bo" x="30.5" y="-.75" width="194.6" height="62.1"/><rect class="po" x="225.1" y="-.75" width="16.2" height="62.1"/>
<text class="m" y="-7"><tspan x="31.5">141</tspan><tspan x="271.5">142</tspan><tspan x="511.5">143</tspan><tspan x="751.5">144</tspan></text>
<text class="a" y="77"><tspan x="270">200</tspan><tspan x="510">200</tspan><tspan x="750">200</tspan><tspan x="990">200</tspan></text>
<text class="s" y="90"><tspan x="270">170423</tspan><tspan x="510">171623</tspan><tspan x="750">172823</tspan><tspan x="990">174023</tspan></text>
<text class="p" y="103"><tspan x="270">0.00%</tspan><tspan x="510">0.00%</tspan><tspan x="750">0.00%</tspan><tspan x="990">0.00%</tspan></text>
</g>

<g id="row145" transform="translate(0,5281.5)">
<use href="#S4"/>
<use href="#c8" x="31.3" y="45.45" class="B"/><use href="#c6" x="271.3" y="15.15" class="R"/><use href="#c10" x="451.3" y="45.45" class="B"/><use href="#c8" x="751.3" y="30.3" class="Y"/>
<text class="m" y="-7"><tspan x="31.5">145</tspan><tspan x="271.5">146</tspan><tspan x="511.5">147</tspan><tspan x="751.5">148</tspan></text>
<text class="a" y="77"><tspan x="270">200</tspan><tspan x="510">200</tspan><tspan x="750">200</tspan><tspan x="990">200</tspan></text>
<text class="s" y="90"><tspan x="270">175223</tspan><tspan x="510">176423</tspan><tspan x="750">177623</tspan><tspan x="990">178823</tspan></text>
<text class="p" y="103"><tspan x="270">0.00%</tspan><tspan x="510">0.00%</tspan><tspan x="750">0.00%</tspan><tspan x="990">0.00%</tspan></text>
</g>

<g id="row149" transform="translate(0,5422.5)">
<use href="#S4"/>
<use href="#c8" x="31.3" y="30.3" class="Y"/><use href="#c6" x="271.3" class="G"/><use href="#c10" x="451.3" y="45.45" class="B"/><use href="#c6" x="751.3" y="60.6" class="O"/><use href="#c2" x="931.3" y="45.45" class="B"/>
<text class="m" y="-7"><tspan x="31.5">149</tspan><tspan x="271.5">150</tspan><tspan x="511.5">151</tspan><tspan x="751.5">152</tspan></text>
<text class="a" y="77"><tspan x="270">200</tspan><tspan x="510">200</tspan><tspan x="750">200</tspan><tspan x="990">200</tspan></text>
<text class="s" y="90"><tspan x="270">180023</tspan><tspan x="510">181223</tspan><tspan x="750">182423</tspan><tspan x="990">183623</tspan></text>
<text class="p" y="103"><tspan x="270">0.00%</tspan><tspan x="510">0.00%</tspan><tspan x="750">0.00%</tspan><tspan x="990">0.00%</tspan></text>
</g>

<g id="row153" transform="translate(0,5563.5)">
<use href="#S3"/>
<use href="#c4" x="31.3" y="45.45" class="B"/><use href="#c1" x="151.3" y="30.3" class="Y"/><use href="#c1" x="181.3" y="60.6" class="O"/><use href="#c7" x="241.3" y="15.15" class="R"/><use href="#c10" x="451.3" y="45.45" class="B"/>
<text class="m" y="-7"><tspan x="31.5">153</tspan><tspan x="271.5">154</tspan><tspan x="511.5">155</tspan></text>
<text class="a" y="77"><tspan x="270">175</tspan><tspan x="510">200</tspan><tspan x="750">200</tspan></text>
<text class="s" y="90"><tspan x="270">184673</tspan><tspan x="510">185873</tspan><tspan x="750">187073</tspan></text>
<text class="p" y="103"><tspan x="270">0.00%</tspan><tspan x="510">0.00%</tspan><tspan x="750">0.00%</tspan></text>
</g>
</g>
</svg>
